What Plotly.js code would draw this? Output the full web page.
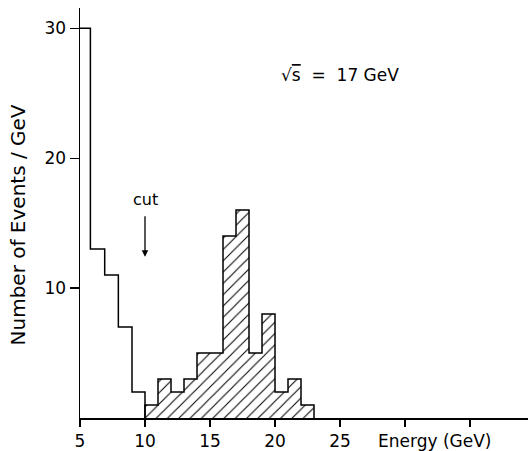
<!DOCTYPE html>
<html>
<head>
<meta charset="utf-8">
<script src="https://cdn.plot.ly/plotly-3.0.1.min.js"></script>
<style>html,body{margin:0;padding:0;background:#fff;}#chart{width:528px;height:451px;}</style>
</head>
<body>
<div id="chart"></div>
<script>
// Unhatched (below cut) histogram: bin edges and counts
const lowEdges = [5, 5.8, 6.9, 7.95, 9, 10];
const lowCounts = [30, 13, 11, 7, 2];
// Hatched (above cut) histogram: bin edges and counts
const highEdges = [10, 11, 12, 13, 14, 15, 16, 17, 18, 19, 20, 21, 22, 23];
const highCounts = [1, 3, 2, 3, 5, 5, 14, 16, 5, 8, 2, 3, 1];
const xTickVals = [5, 10, 15, 20, 25, 30, 35];
const xTickText = ['5', '10', '15', '20', '25', '', ''];
const yTickVals = [10, 20, 30];
const yTickText = ['10', '20', '30'];
const cutEnergy = 10;

const FONT = 'DejaVu Sans, sans-serif';

// step outline for the low part
const lowX = lowEdges.slice();
const lowY = lowCounts.concat([0]);
// step outline for the high part
const highX = [highEdges[0]].concat(highEdges);
const highY = [0].concat(highCounts, [0]);
// bar centres and widths for hatched fill
const barX = [], barW = [];
for (let i = 0; i < highCounts.length; i++) {
  barX.push((highEdges[i] + highEdges[i + 1]) / 2);
  barW.push(highEdges[i + 1] - highEdges[i]);
}

const traces = [
  {
    type: 'bar', x: barX, y: highCounts, width: barW,
    marker: {
      color: 'white',
      line: {width: 0},
      pattern: {shape: '/', fgcolor: 'black', bgcolor: 'white', size: 8, solidity: 0.13}
    },
    hoverinfo: 'skip', showlegend: false
  },
  {
    type: 'scatter', mode: 'lines', x: lowX, y: lowY,
    line: {shape: 'hv', color: 'black', width: 1.5},
    showlegend: false
  },
  {
    type: 'scatter', mode: 'lines', x: highX, y: highY,
    line: {shape: 'hv', color: 'black', width: 1.5},
    showlegend: false
  }
];

const layout = {
  width: 528, height: 451,
  margin: {l: 80, r: 0, t: 8, b: 33},
  paper_bgcolor: 'white', plot_bgcolor: 'white',
  bargap: 0,
  showlegend: false,
  font: {family: FONT, color: 'black', size: 17},
  xaxis: {
    range: [5, 39.46],
    showgrid: false, zeroline: false,
    showline: true, linecolor: 'black', linewidth: 1.5,
    ticks: 'outside', ticklen: 7, tickwidth: 1.2, tickcolor: 'black',
    tickvals: xTickVals, ticktext: xTickText,
    tickfont: {family: FONT, size: 17, color: 'black'}
  },
  yaxis: {
    range: [0, 31.55],
    showgrid: false, zeroline: false,
    showline: true, linecolor: 'black', linewidth: 1.5,
    ticks: 'outside', ticklen: 9, tickwidth: 1.2, tickcolor: 'black',
    tickvals: yTickVals, ticktext: yTickText,
    tickfont: {family: FONT, size: 17, color: 'black'}
  },
  annotations: [
    {
      xref: 'paper', yref: 'paper', x: -0.138, y: 0.47,
      text: 'Number of Events / GeV', textangle: -90, showarrow: false,
      font: {family: FONT, size: 20, color: 'black'},
      xanchor: 'center', yanchor: 'middle'
    },
    {
      xref: 'paper', yref: 'paper', x: 0.792, y: -0.055,
      text: 'Energy (GeV)', showarrow: false,
      font: {family: FONT, size: 17, color: 'black'},
      xanchor: 'center', yanchor: 'middle'
    },
    {
      x: cutEnergy, y: 16.8, text: 'cut', showarrow: false,
      font: {family: FONT, size: 16, color: 'black'},
      xanchor: 'center', yanchor: 'middle'
    },
    {
      x: cutEnergy, y: 12.4, text: '', showarrow: true,
      ax: 0, ay: -42, arrowhead: 2, arrowsize: 1, arrowwidth: 1.3, arrowcolor: 'black'
    },
    {
      x: 25, y: 26.4, text: '√<span style="text-decoration:overline">s</span>  =  17 GeV',
      showarrow: false,
      font: {family: FONT, size: 17, color: 'black'},
      xanchor: 'center', yanchor: 'middle'
    }
  ]
};

Plotly.newPlot('chart', traces, layout, {displayModeBar: false, staticPlot: true});
</script>
</body>
</html>
